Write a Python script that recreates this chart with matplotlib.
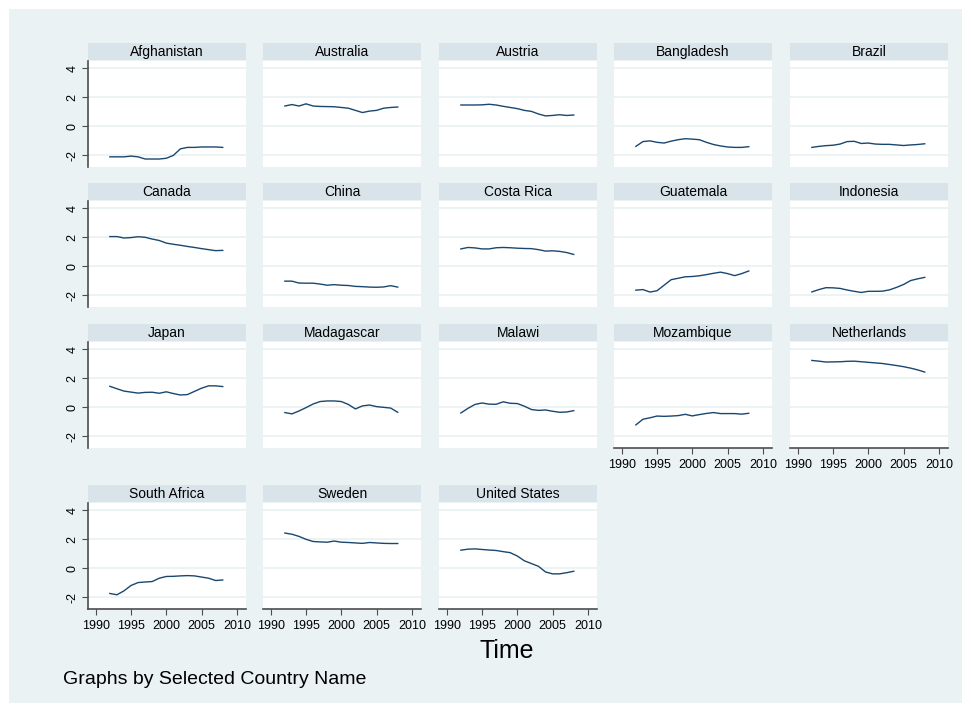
import matplotlib.pyplot as plt
from matplotlib.patches import Rectangle

plt.rcParams['font.family'] = ['Liberation Sans', 'DejaVu Sans']

# one value per year, 1992-2008
years = list(range(1992, 2009))

countries = ['Afghanistan', 'Australia', 'Austria', 'Bangladesh', 'Brazil',
             'Canada', 'China', 'Costa Rica', 'Guatemala', 'Indonesia',
             'Japan', 'Madagascar', 'Malawi', 'Mozambique', 'Netherlands',
             'South Africa', 'Sweden', 'United States']

afghanistan = [-2.1, -2.1, -2.1, -2.05, -2.1, -2.25, -2.25, -2.25, -2.2, -2.0,
               -1.55, -1.45, -1.45, -1.42, -1.42, -1.42, -1.45]
australia = [1.4, 1.5, 1.4, 1.55, 1.4, 1.37, 1.36, 1.35, 1.3, 1.25,
             1.1, 0.95, 1.05, 1.1, 1.25, 1.3, 1.33]
austria = [1.47, 1.47, 1.47, 1.48, 1.52, 1.47, 1.38, 1.3, 1.22, 1.1,
           1.03, 0.85, 0.72, 0.75, 0.8, 0.75, 0.78]
bangladesh = [-1.38, -1.05, -1.0, -1.1, -1.15, -1.02, -0.92, -0.85, -0.88, -0.92,
              -1.1, -1.25, -1.35, -1.42, -1.45, -1.45, -1.4]
brazil = [-1.45, -1.38, -1.33, -1.3, -1.22, -1.05, -1.03, -1.18, -1.15, -1.22,
          -1.24, -1.24, -1.28, -1.32, -1.28, -1.25, -1.2]
canada = [2.05, 2.05, 1.95, 1.98, 2.04, 2.0, 1.88, 1.78, 1.6, 1.52,
          1.45, 1.37, 1.3, 1.22, 1.15, 1.08, 1.1]
china = [-1.02, -1.02, -1.15, -1.16, -1.16, -1.22, -1.3, -1.26, -1.3, -1.32,
         -1.38, -1.4, -1.43, -1.44, -1.42, -1.33, -1.43]
costa_rica = [1.2, 1.3, 1.27, 1.2, 1.2, 1.28, 1.3, 1.28, 1.25, 1.23,
              1.22, 1.15, 1.05, 1.07, 1.03, 0.95, 0.82]
guatemala = [-1.64, -1.6, -1.77, -1.68, -1.3, -0.92, -0.82, -0.72, -0.7, -0.65,
             -0.57, -0.48, -0.4, -0.5, -0.64, -0.5, -0.32]
indonesia = [-1.76, -1.6, -1.47, -1.48, -1.52, -1.63, -1.72, -1.8, -1.72, -1.72,
             -1.71, -1.62, -1.45, -1.25, -0.98, -0.86, -0.76]
japan = [1.45, 1.28, 1.12, 1.05, 0.98, 1.03, 1.04, 0.97, 1.07, 0.95,
         0.85, 0.88, 1.1, 1.32, 1.48, 1.48, 1.43]
madagascar = [-0.36, -0.45, -0.25, -0.02, 0.23, 0.4, 0.44, 0.44, 0.4, 0.2,
              -0.11, 0.1, 0.16, 0.05, 0.0, -0.05, -0.34]
malawi = [-0.39, -0.07, 0.2, 0.3, 0.22, 0.21, 0.38, 0.28, 0.26, 0.08,
          -0.15, -0.21, -0.18, -0.27, -0.34, -0.32, -0.23]
mozambique = [-1.21, -0.82, -0.72, -0.6, -0.62, -0.6, -0.57, -0.48, -0.59, -0.5,
              -0.42, -0.36, -0.43, -0.43, -0.43, -0.47, -0.41]
netherlands = [3.23, 3.18, 3.12, 3.13, 3.14, 3.17, 3.18, 3.14, 3.1, 3.06,
               3.02, 2.95, 2.88, 2.8, 2.7, 2.58, 2.43]
south_africa = [-1.73, -1.82, -1.55, -1.18, -0.98, -0.94, -0.91, -0.68, -0.56, -0.55,
                -0.52, -0.5, -0.52, -0.6, -0.68, -0.84, -0.8]
sweden = [2.43, 2.35, 2.2, 2.0, 1.85, 1.82, 1.8, 1.88, 1.8, 1.78,
          1.75, 1.72, 1.78, 1.75, 1.72, 1.71, 1.71]
united_states = [1.25, 1.32, 1.34, 1.3, 1.26, 1.23, 1.15, 1.08, 0.85, 0.52,
                 0.33, 0.14, -0.25, -0.38, -0.38, -0.3, -0.2]

series = [afghanistan, australia, austria, bangladesh, brazil,
          canada, china, costa_rica, guatemala, indonesia,
          japan, madagascar, malawi, mozambique, netherlands,
          south_africa, sweden, united_states]

yticks = [-2, 0, 2, 4]
xticks = [1990, 1995, 2000, 2005, 2010]

BG = '#eaf2f3'
STRIP = '#d8e4ea'
LINE = '#1a476f'
AXIS = '#4d4d4d'

W, H = 971, 711
fig = plt.figure(figsize=(W / 100, H / 100), dpi=100)
fig.patch.set_facecolor('white')
fig.add_artist(Rectangle((9 / W, 1 - 703 / H), 953 / W, 694 / H,
                         transform=fig.transFigure, facecolor=BG,
                         edgecolor='none', zorder=0))

col_left = [88, 263, 439, 614, 790]
row_top = [61, 201, 342, 503]
pw, ph, sh = 158, 106, 17

n = len(countries)
for i, (name, vals) in enumerate(zip(countries, series)):
    r, c = divmod(i, 5)
    x0, y0 = col_left[c], row_top[r]
    ax = fig.add_axes([x0 / W, 1 - (y0 + ph) / H, pw / W, ph / H])
    ax.set_facecolor('white')
    ax.plot(years, vals, color=LINE, lw=1.0)
    ax.set_xlim(1988.9, 2011.3)
    ax.set_ylim(-2.8, 4.5)
    ax.set_yticks(yticks)
    ax.set_xticks(xticks)
    for t in yticks:
        ax.axhline(t, color=BG, lw=1.3, zorder=0)
    for s in ax.spines.values():
        s.set_visible(False)

    # strip with country name
    sax = fig.add_axes([x0 / W, 1 - (y0 - 1) / H, pw / W, sh / H])
    sax.set_facecolor(STRIP)
    sax.set_xticks([])
    sax.set_yticks([])
    for s in sax.spines.values():
        s.set_visible(False)
    sax.text(0.5, 0.45, name, ha='center', va='center', fontsize=10,
             transform=sax.transAxes)

    # y axis only on the first column
    if c == 0:
        ax.spines['left'].set_visible(True)
        ax.spines['left'].set_color(AXIS)
        ax.spines['left'].set_linewidth(1.2)
        ax.set_yticklabels([str(t) for t in yticks], rotation=90, va='center')
        ax.tick_params(axis='y', length=4, color=AXIS, labelsize=9, pad=3)
    else:
        ax.tick_params(axis='y', left=False, labelleft=False)

    # x axis on the lowest panel of each column
    if i + 5 >= n:
        ax.spines['bottom'].set_visible(True)
        ax.spines['bottom'].set_color(AXIS)
        ax.spines['bottom'].set_linewidth(1.2)
        ax.tick_params(axis='x', length=4, color=AXIS, labelsize=9, pad=4)
    else:
        ax.tick_params(axis='x', bottom=False, labelbottom=False)

fig.text(507 / W, 1 - 651 / H, 'Time', ha='center', va='center', fontsize=18)
fig.text(63 / W, 1 - 679 / H, 'Graphs by Selected Country Name',
         ha='left', va='center', fontsize=14)

fig.savefig('out.png', dpi=100)
